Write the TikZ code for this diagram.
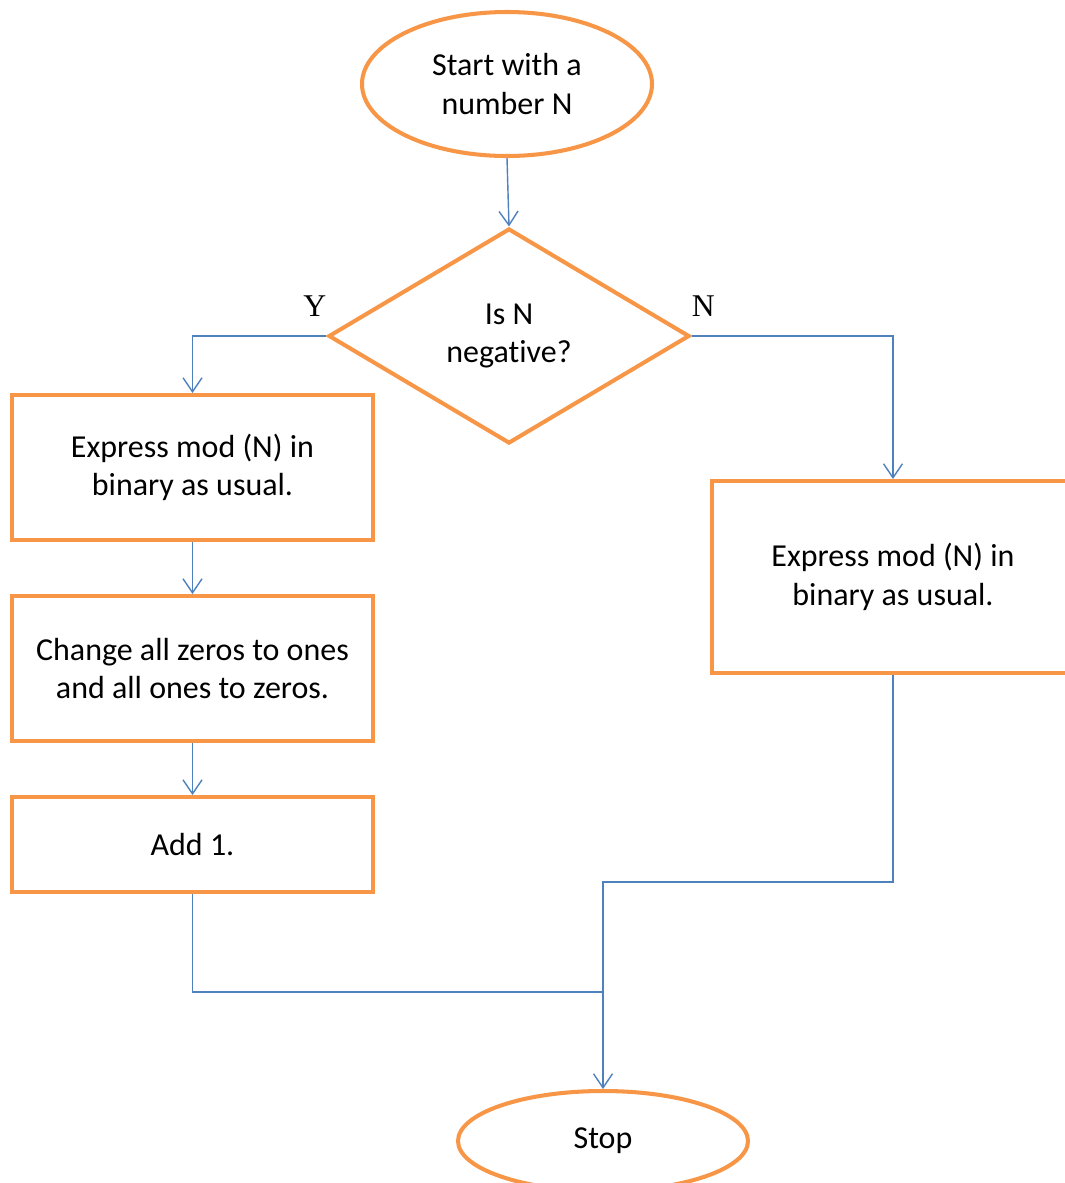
\documentclass[tikz,border=0pt]{standalone}
\usepackage{fontspec}
\setmainfont{Carlito}[Ligatures=NoCommon]
\newfontfamily\labelfont{Liberation Serif}
\usetikzlibrary{arrows.meta, positioning, shapes.geometric}
\definecolor{flowOrange}{HTML}{F79646}
\definecolor{flowBlue}{HTML}{4F81BD}
\tikzset{
  terminal/.style={ellipse, draw=flowOrange, line width=2.3pt, fill=white, minimum width=5.8cm, align=center, font=\fontsize{18.2pt}{22pt}\selectfont},
  decision/.style={diamond, draw=flowOrange, line width=2.3pt, fill=white, aspect=1.68, minimum width=7.22cm, minimum height=4.3cm, inner sep=0pt, align=center, font=\fontsize{18.2pt}{22pt}\selectfont},
  stepbox/.style={rectangle, draw=flowOrange, line width=2.3pt, fill=white, minimum width=7.22cm, align=center, font=\fontsize{18.2pt}{22pt}\selectfont},
  branchlbl/.style={inner sep=0pt, font=\labelfont\fontsize{18pt}{22pt}\selectfont},
  link/.style={flowBlue, line width=0.8pt},
  flowarr/.style={link, -{Straight Barb[length=2.8mm, width=3.8mm]}},
}
\begin{document}
\begin{tikzpicture}[node distance=1.04cm]
  \useasboundingbox (0,0) rectangle (21.3,-23.66);
  \node[terminal, minimum height=2.88cm] (start) at (10.14,-1.68) {Start with a\\ number N};
  \node[decision] (neg) at (10.18,-6.72) {Is N\\ negative?};
  \node[branchlbl, above left=0.38cm and 0cm of neg.west] (yes) {Y};
  \node[branchlbl, above right=0.38cm and 0cm of neg.east] (no) {N};
  \node[stepbox, minimum height=2.9cm] (modneg) at (3.85,-9.35) {Express mod (N) in\\ binary as usual.};
  \node[stepbox, minimum height=2.9cm, below=of modneg] (flip) {Change all zeros to ones\\ and all ones to zeros.};
  \node[stepbox, minimum height=1.9cm, below=of flip] (addone) {Add 1.};
  \node[stepbox, minimum width=7.24cm, minimum height=3.84cm] (modpos) at (17.86,-11.54) {Express mod (N) in\\ binary as usual.};
  \node[terminal, minimum height=2.0cm] (stop) at (12.06,-22.82) {Stop};
  \coordinate (mergeL) at (12.06,-19.84);
  \coordinate (mergeR) at (12.06,-17.64);
  \draw[flowarr] (start.south) -- (neg.north);
  \draw[flowarr] (neg.west) -| (modneg.north);
  \draw[flowarr] (neg.east) -| (modpos.north);
  \draw[flowarr] (modneg.south) -- (flip.north);
  \draw[flowarr] (flip.south) -- (addone.north);
  \draw[link] (addone.south) |- (mergeL);
  \draw[flowarr] (modpos.south) |- (mergeR) -- (stop.north);
\end{tikzpicture}
\end{document}
